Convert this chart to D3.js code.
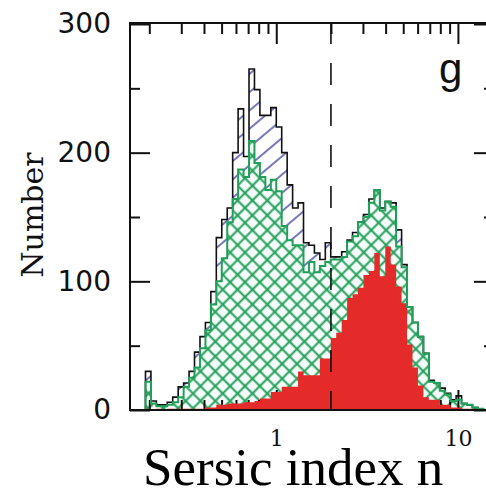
<!DOCTYPE html>
<html>
<head>
<meta charset="utf-8">
<script src="https://cdn.jsdelivr.net/npm/d3@7"></script>
<style>
  body { margin: 0; background: #fff; }
  svg { display: block; }
</style>
</head>
<body>
<div id="chart"></div>
<script>
// bins are equal steps in log10(n), first edge at n = 0.1905
var binStartLog = -0.72,
	binWidthLog = 0.03;

// all galaxies (black outline, blue hatch)
var allCounts = [30, 7, 4, 4, 6, 10, 18, 21, 30, 45,
	57, 68, 92, 134, 148, 157, 200, 234, 197, 265,
	249, 229, 229, 235, 220, 200, 175, 157, 161, 130,
	128, 122, 117, 130, 119, 119, 123, 132, 138, 146,
	152, 164, 171, 157, 162, 161, 140, 113, 80, 68,
	57, 44, 23, 21, 17, 13, 8, 11, 5, 4,
	2, 1];

// green cross-hatched subset
var greenCounts = [22, 5, 3, 3, 4, 6, 10, 18, 25, 33,
	48, 62, 82, 100, 118, 146, 164, 187, 181, 209,
	192, 181, 171, 179, 170, 143, 132, 128, 128, 107,
	115, 107, 112, 115, 117, 117, 119, 131, 135, 146,
	150, 161, 171, 155, 162, 158, 127, 111, 80, 68,
	57, 44, 22, 21, 15, 12, 7, 8, 5, 4,
	2, 1];

// red solid subset
var redCounts = [1, 0, 1, 0, 1, 1, 1, 1, 1, 1,
	1, 2, 2, 4, 4, 5, 5, 5, 6, 6,
	7, 9, 9, 14, 14, 18, 18, 18, 30, 27,
	27, 27, 40, 40, 56, 60, 70, 87, 90, 95,
	105, 108, 122, 104, 127, 113, 96, 83, 51, 33,
	19, 10, 8, 8, 4, 4, 2, 2, 1, 1,
	1, 0];

var yMajor = [0, 100, 200, 300],
	yMinor = [50, 150, 250],
	xMajor = [1, 10],
	xMinor = [0.2, 0.3, 0.4, 0.5, 0.6, 0.7, 0.8, 0.9, 2, 3, 4, 5, 6, 7, 8, 9],
	dividerN = 2;

var width = 486,
	height = 491;

var svg = d3.select('#chart')
	.append('svg')
		.attr('width', width)
		.attr('height', height);

var plotLeft = 130, plotRight = 494, plotTop = 24, plotBottom = 410;

var x = d3.scaleLog()
	.domain([0.1566, 15.8])
	.range([plotLeft, plotRight]);

var y = d3.scaleLinear()
	.domain([0, 300])
	.range([plotBottom, plotTop]);

// PATTERNS
var defs = svg.append('defs');

var blueHatch = defs.append('pattern')
	.attr('id', 'blueHatch')
	.attr('patternUnits', 'userSpaceOnUse')
	.attr('width', 14)
	.attr('height', 14)
	.attr('patternTransform', 'rotate(-40)');
blueHatch.append('line')
	.attr('x1', 0).attr('y1', 7).attr('x2', 14).attr('y2', 7)
	.style('stroke', '#3a3f9c')
	.style('stroke-width', 1.4);

var greenHatch = defs.append('pattern')
	.attr('id', 'greenHatch')
	.attr('patternUnits', 'userSpaceOnUse')
	.attr('width', 10.5)
	.attr('height', 10.5)
	.attr('patternTransform', 'rotate(45)');
greenHatch.append('rect')
	.attr('width', 10.5).attr('height', 10.5)
	.style('fill', '#f6fcfa');
greenHatch.append('line')
	.attr('x1', 0).attr('y1', 5.25).attr('x2', 10.5).attr('y2', 5.25)
	.style('stroke', '#22a05a').style('stroke-width', 2);
greenHatch.append('line')
	.attr('x1', 5.25).attr('y1', 0).attr('x2', 5.25).attr('y2', 10.5)
	.style('stroke', '#22a05a').style('stroke-width', 2);

// STEP HISTOGRAMS
function stepPoints(counts){
	var pts = [{e: binStartLog, c: 0}];
	counts.forEach(function(c, i){
		pts.push({e: binStartLog + i * binWidthLog, c: c});
	});
	pts.push({e: binStartLog + counts.length * binWidthLog, c: 0});
	return pts;
}

var step = d3.line()
	.x(d => x(Math.pow(10, d.e)))
	.y(d => y(d.c))
	.curve(d3.curveStepAfter);

svg.append('path')
	.datum(stepPoints(allCounts))
	.attr('d', step)
	.style('fill', 'url(#blueHatch)');

svg.append('path')
	.datum(stepPoints(greenCounts))
	.attr('d', step)
	.style('fill', 'url(#greenHatch)');

// TICKS
function ticks(axis, values, size, transform){
	svg.append('g')
		.attr('transform', transform)
		.call(axis.tickValues(values).tickSize(size).tickFormat(''))
		.call(g => g.select('.domain').remove())
		.selectAll('line')
			.style('stroke', '#111')
			.style('stroke-width', 2);
}

ticks(d3.axisRight(y), yMajor, 20, `translate(${plotLeft},0)`);
ticks(d3.axisRight(y), yMinor, 10, `translate(${plotLeft},0)`);
ticks(d3.axisLeft(y), yMajor, 20, `translate(${plotRight},0)`);
ticks(d3.axisLeft(y), yMinor, 10, `translate(${plotRight},0)`);
ticks(d3.axisBottom(x), xMajor, 20, `translate(0,${plotTop})`);
ticks(d3.axisBottom(x), xMinor, 10, `translate(0,${plotTop})`);
ticks(d3.axisTop(x), xMajor, 20, `translate(0,${plotBottom})`);
ticks(d3.axisTop(x), xMinor, 10, `translate(0,${plotBottom})`);

svg.append('path')
	.datum(stepPoints(redCounts))
	.attr('d', step)
	.style('fill', '#e52a2a');

svg.append('path')
	.datum(stepPoints(allCounts))
	.attr('d', step)
	.style('fill', 'none')
	.style('stroke', '#111')
	.style('stroke-width', 1.6);

svg.append('path')
	.datum(stepPoints(greenCounts))
	.attr('d', step)
	.style('fill', 'none')
	.style('stroke', '#22a05a')
	.style('stroke-width', 2);

// dashed divider
svg.append('line')
	.attr('x1', x(dividerN)).attr('x2', x(dividerN))
	.attr('y1', plotTop - 2).attr('y2', plotBottom)
	.style('stroke', '#111')
	.style('stroke-width', 1.6)
	.style('stroke-dasharray', '22,19');

// frame
svg.append('rect')
	.attr('x', plotLeft).attr('y', plotTop - 1)
	.attr('width', plotRight - plotLeft).attr('height', plotBottom - plotTop + 1)
	.style('fill', 'none')
	.style('stroke', '#111')
	.style('stroke-width', 2);

// LABELS
svg.append('g')
	.attr('transform', `translate(${plotLeft},0)`)
	.call(d3.axisLeft(y).tickValues(yMajor).tickSize(0).tickPadding(19))
	.call(g => g.select('.domain').remove())
	.selectAll('text')
		.style('font-family', '"DejaVu Sans", sans-serif')
		.style('font-size', '28px')
		.style('fill', '#111');

svg.append('g')
	.attr('transform', `translate(0,${plotBottom})`)
	.call(d3.axisBottom(x).tickValues(xMajor).tickSize(0).tickPadding(20).tickFormat(d3.format('d')))
	.call(g => g.select('.domain').remove())
	.selectAll('text')
		.style('font-family', '"DejaVu Serif", serif')
		.style('font-size', '22px')
		.style('fill', '#111');

svg.append('text')
	.text('Number')
	.attr('transform', 'translate(43,215) rotate(-90)')
	.attr('text-anchor', 'middle')
	.style('font-family', '"DejaVu Serif", serif')
	.style('font-size', '30px')
	.style('fill', '#111');

svg.append('text')
	.text('Sersic index n')
	.attr('x', 143)
	.attr('y', 485)
	.style('font-family', '"Liberation Serif", "Times New Roman", serif')
	.style('font-size', '53px')
	.style('fill', '#000');

svg.append('text')
	.text('g')
	.attr('x', 439)
	.attr('y', 83)
	.style('font-family', '"Liberation Sans", Arial, sans-serif')
	.style('font-size', '42px')
	.style('fill', '#111');
</script>
</body>
</html>
